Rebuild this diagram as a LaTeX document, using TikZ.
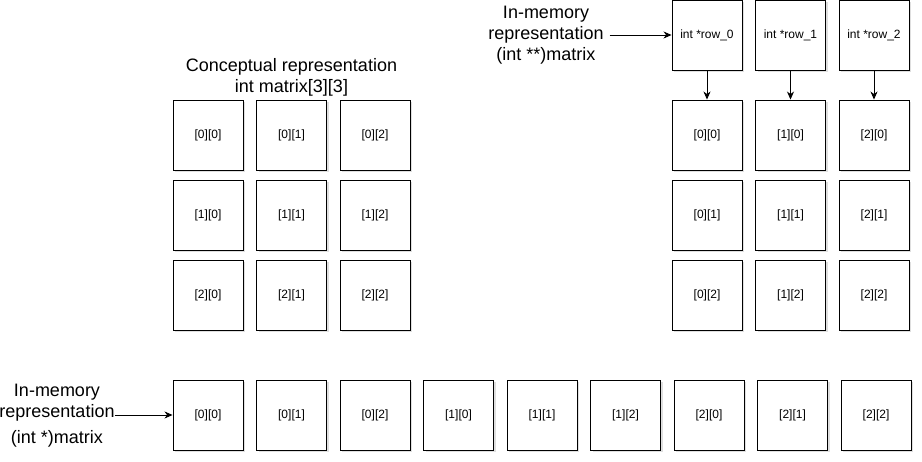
\documentclass[tikz,border=0pt]{standalone}
\usepackage{fontspec}
\setmainfont{Liberation Sans}
\usetikzlibrary{arrows.meta, positioning, shadows}

\begin{document}
\begin{tikzpicture}[
    x=1pt, y=-1pt,
    >={Stealth[length=8pt, width=7pt, inset=2.5pt]},
    cell/.style={draw, line width=0.9pt, fill=white, minimum width=70pt, minimum height=70pt, inner sep=0pt, font=\fontsize{12}{14}\selectfont,
        drop shadow={opacity=0.25, shadow xshift=2pt, shadow yshift=-2pt}},
    caption/.style={align=center, inner sep=0pt, font=\fontsize{18}{21}\selectfont},
]
    \useasboundingbox (0,0) rectangle (922,462);

    % conceptual 3x3 grid
    \node[caption] (concept) at (291.5,77) {Conceptual representation\\int matrix[3][3]};
    \foreach \r in {0,1,2}
        \foreach \c in {0,1,2}
            \node[cell] (m\r\c) at (208+83.5*\c, 135+80*\r) {[\r][\c]};

    % row pointers
    \node[caption] (ptrlbl) at (546,35) {In-memory\\representation\\(int **)matrix};
    \foreach \c in {0,1,2} {
        \node[cell] (p\c) at (707+83.5*\c, 35) {int *row\_\c};
        \foreach \r in {0,1,2}
            \node[cell] (q\c\r) at (707+83.5*\c, 135+80*\r) {[\c][\r]};
        \draw[->, line width=0.9pt] (p\c) -- (q\c0);
    }
    \draw[->, line width=0.9pt, shorten <=6pt] (ptrlbl) -- (p0);

    % flat layout
    \node[caption] (flatlbl) at (57,416) {In-memory\\representation\\[5pt](int *)matrix};
    \foreach \i in {0,...,8} {
        \pgfmathtruncatemacro{\r}{int(\i/3)}
        \pgfmathtruncatemacro{\c}{mod(\i,3)}
        \node[cell] (f\i) at (208+83.5*\i, 415) {[\r][\c]};
    }
    \draw[->, line width=0.9pt] (flatlbl.east |- f0) -- (f0);
\end{tikzpicture}
\end{document}
